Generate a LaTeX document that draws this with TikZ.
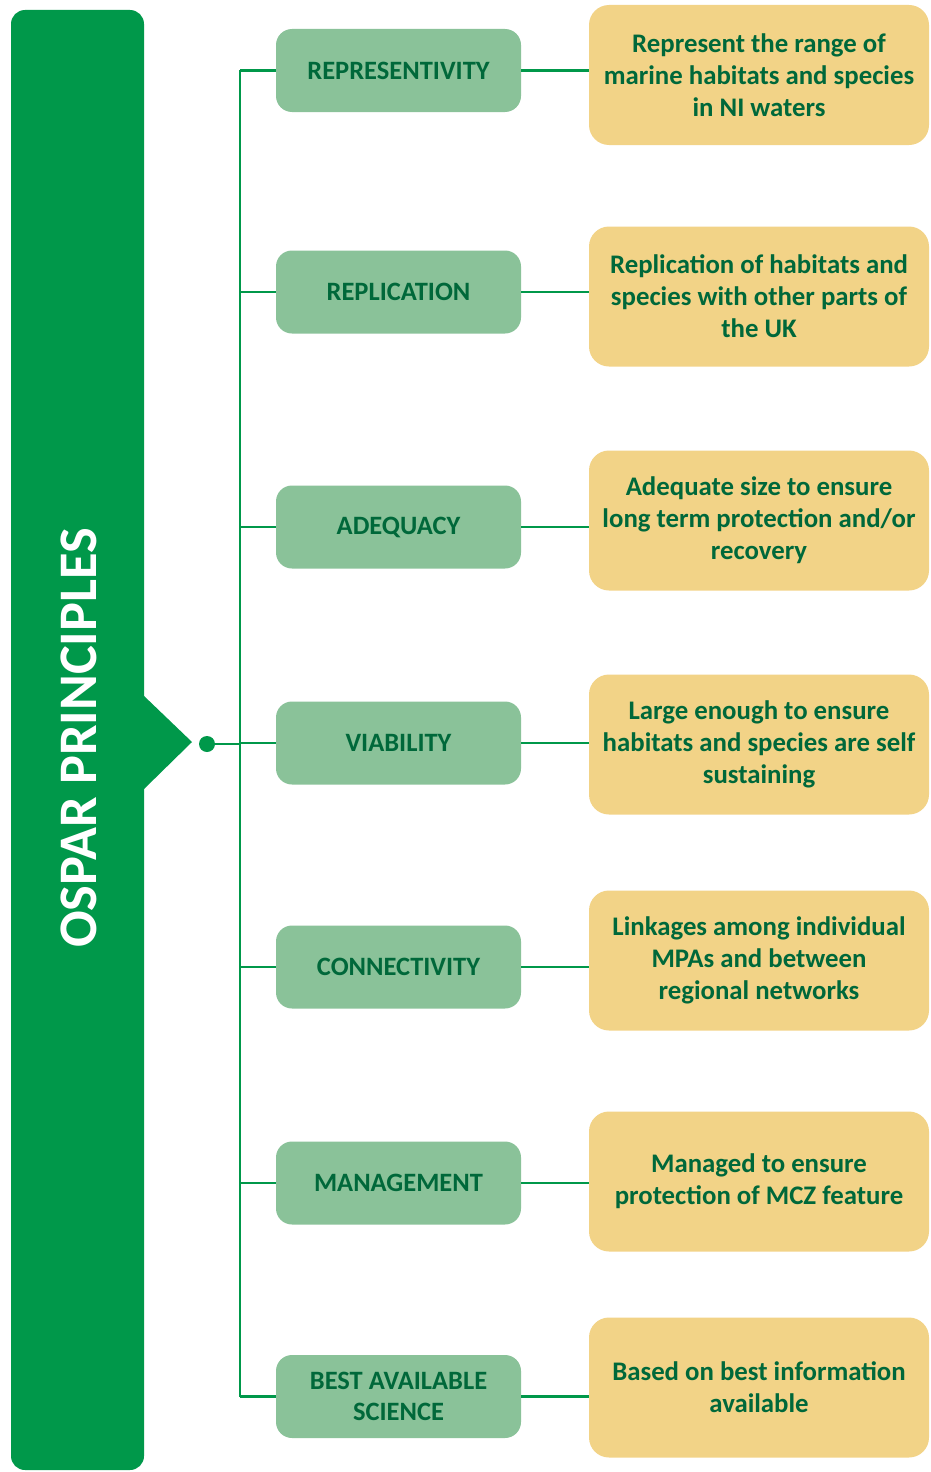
\documentclass[tikz,border=0pt]{standalone}
\usepackage{fontspec}
\setmainfont{Carlito}
\definecolor{ospargreen}{HTML}{00984A}
\definecolor{boxgreen}{HTML}{8AC299}
\definecolor{boxtan}{HTML}{F2D387}
\definecolor{textgreen}{HTML}{00683A}
\tikzset{
  principle/.style={fill=boxgreen, rounded corners=16pt, minimum width=245pt,
    minimum height=83pt, align=center, text=textgreen, font=\fontsize{26.5}{31}\selectfont\bfseries},
  meaning/.style={fill=boxtan, rounded corners=20pt, minimum width=340pt,
    minimum height=140pt, align=center, text=textgreen, font=\fontsize{26.8}{32}\selectfont\bfseries},
  link/.style={ospargreen, line width=2.6pt}
}
\begin{document}
\begin{tikzpicture}[x=1pt, y=-1pt]
      \useasboundingbox (0,0) rectangle (930,1472);
      \fill[ospargreen, rounded corners=14pt] (11,10) rectangle (144,1470);
      \fill[ospargreen] (143,695) -- (192,742) -- (143,790) -- cycle;
      \node[rotate=90, text=white, font=\fontsize{54.3}{60}\selectfont\bfseries] (title) at (79,738) {OSPAR PRINCIPLES};

      \coordinate (spine) at (240,744);
      \node[fill=ospargreen, circle, inner sep=0pt, minimum size=16pt] (hub) at (207,744) {};

      \foreach \i/\gy/\ty/\name/\desc in {
          1/70.5/75/REPRESENTIVITY/{Represent the range of\\marine habitats and species\\in NI waters},
          2/292/296.5/REPLICATION/{Replication of habitats and\\species with other parts of\\the UK},
          3/527/520.5/ADEQUACY/{Adequate size to ensure\\long term protection and/or\\recovery},
          4/743/744.5/VIABILITY/{Large enough to ensure\\habitats and species are self\\sustaining},
          5/967/960.5/CONNECTIVITY/{Linkages among individual\\MPAs and between\\regional networks},
          6/1183/1181.5/MANAGEMENT/{Managed to ensure\\protection of MCZ feature},
          7/1396.5/1387.5/{BEST AVAILABLE\\SCIENCE}/{Based on best information\\available}}
      {
        \node[principle] (p\i) at (398.5,\gy) {\name};
        \node[meaning] (m\i) at (759,\ty) {\desc};
        \draw[link] (p\i.east) -- (p\i.east -| m\i.west);
        \draw[link] (p\i.west) -- (p\i.west -| spine);
      }

      \draw[link] (p1.west -| spine) -- (p7.west -| spine);
      \draw[link] (hub) -- (spine);
    \end{tikzpicture}
\end{document}
